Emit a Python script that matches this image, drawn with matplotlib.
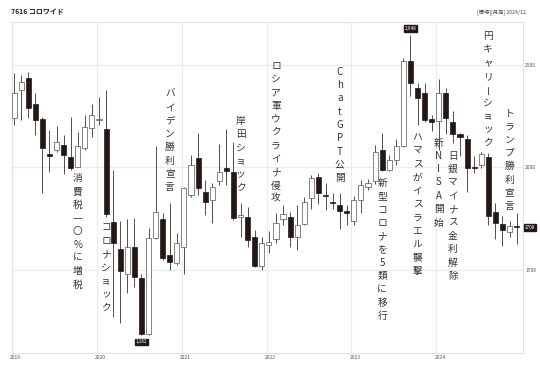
import matplotlib
matplotlib.use("Agg")
import matplotlib.pyplot as plt
import numpy as np

plt.rcParams['font.family'] = ['Noto Sans CJK JP', 'DejaVu Sans']

# ---- data (monthly OHLC, 2019-01 .. 2024-12) ----
months = [f"{y}-{m:02d}" for y in range(2019, 2025) for m in range(1, 13)]
opens = [2240, 2378, 2435, 2310, 2235, 2065, 2085, 2110, 2050, 2004, 2093, 2191,
         2232, 2186, 1736, 1601, 1480, 1614, 1459, 1190, 1654, 1747, 1573, 1533,
         1614, 1866, 2045, 1882, 1841, 1936, 1999, 1980, 1760, 1757, 1663, 1520,
         1620, 1650, 1747, 1760, 1663, 1724, 1850, 1952, 1864, 1834, 1817, 1789,
         1737, 1843, 1906, 1933, 2087, 1989, 2038, 2103, 2520, 2388, 2363, 2237,
         2225, 2363, 2220, 2163, 2139, 2000, 2014, 2051, 1781, 1726, 1684, 1713]
highs = [2459, 2451, 2467, 2362, 2248, 2183, 2202, 2159, 2248, 2175, 2256, 2310,
         2346, 2378, 1988, 1741, 1747, 1752, 1480, 1703, 2105, 1776, 1828, 1679,
         1906, 2061, 2167, 1939, 1922, 2115, 2188, 2126, 1828, 1809, 1695, 1659,
         1692, 1776, 1817, 1783, 1817, 1858, 1963, 1975, 1926, 1874, 1874, 1817,
         1859, 1941, 1945, 2111, 2168, 2063, 2139, 2535, 2648, 2412, 2412, 2258,
         2432, 2388, 2274, 2168, 2160, 2054, 2074, 2071, 1827, 1762, 1737, 1778]
lows = [2207, 2232, 2240, 2159, 1874, 1980, 2077, 1968, 1990, 2001, 2085, 2150,
        2207, 1760, 1272, 1240, 1386, 1415, 1182, 1185, 1650, 1549, 1500, 1525,
        1480, 1858, 1866, 1768, 1728, 1915, 1915, 1744, 1663, 1611, 1516, 1500,
        1584, 1630, 1720, 1611, 1598, 1720, 1800, 1822, 1793, 1796, 1698, 1720,
        1721, 1778, 1890, 1920, 1981, 1981, 2014, 2100, 2347, 2209, 2220, 2176,
        2087, 2165, 2120, 2054, 1879, 1973, 1998, 1721, 1651, 1619, 1661, 1628]
closes = [2362, 2419, 2289, 2232, 2093, 2058, 2124, 2061, 1996, 2105, 2196, 2256,
          2236, 1773, 1633, 1497, 1611, 1468, 1190, 1654, 1785, 1557, 1541, 1630,
          1898, 2012, 1898, 1833, 1906, 1980, 1983, 1752, 1768, 1646, 1520, 1630,
          1635, 1728, 1773, 1663, 1720, 1833, 1947, 1874, 1860, 1828, 1789, 1776,
          1843, 1916, 1925, 2074, 1989, 2038, 2103, 2520, 2412, 2339, 2233, 2220,
          2363, 2241, 2165, 2149, 1998, 1998, 2067, 1762, 1729, 1693, 1713, 1708]

years = ["2019", "2020", "2021", "2022", "2023", "2024"]
price_ticks = [1500, 2000, 2500]

events = ["消費税一〇%に増税", "コロナショック", "バイデン勝利宣言", "岸田ショック",
          "ロシア軍ウクライナ侵攻", "ChatGPT公開", "新型コロナを5類に移行",
          "ハマスがイスラエル襲撃", "新NISA開始", "日銀マイナス金利解除",
          "円キャリーショック", "トランプ勝利宣言"]
event_months = ["2019-10", "2020-02", "2020-11", "2021-09", "2022-02", "2022-11",
                "2023-05", "2023-10", "2024-01", "2024-03", "2024-08", "2024-11"]
event_levels = [1949, 1707, 2359, 2227, 2497, 2468, 1924, 2146, 2122, 2056, 2641, 2266]

title = "7616 コロワイド"
subtitle = "[優待][月足] 2024/12"

# ---- figure ----
fig = plt.figure(figsize=(5.4, 3.7), dpi=100)
ax = fig.add_axes([0.0217, 0.0468, 0.9468, 0.8946])

x = np.arange(len(months))
o = np.array(opens); h = np.array(highs); l = np.array(lows); c = np.array(closes)
up = c >= o
black = '#231815'

ax.vlines(x, l, h, color='#333333', lw=0.6, zorder=2)
bottoms = np.minimum(o, c)
heights = np.maximum(np.abs(c - o), 2)
ax.bar(x[up], heights[up], bottom=bottoms[up], width=0.72, color='white',
       edgecolor='#555555', lw=0.5, zorder=3)
ax.bar(x[~up], heights[~up], bottom=bottoms[~up], width=0.72, color=black,
       edgecolor=black, lw=0.5, zorder=3)

ax.set_xlim(-0.33, 71.9)
ax.set_ylim(1097, 2711)

grid_c = '#ebebeb'
year_pos = [12 * k - 0.33 for k in range(len(years))]
for g in year_pos:
    ax.axvline(g, color=grid_c, lw=0.8, zorder=0)
for p in price_ticks:
    ax.axhline(p, color=grid_c, lw=0.8, zorder=0)
for s in ax.spines.values():
    s.set_color('#e2e2e2'); s.set_linewidth(0.8)

ax.set_xticks([])
ax.yaxis.tick_right()
ax.set_yticks(price_ticks)
ax.set_yticklabels([str(p) for p in price_ticks])
ax.tick_params(axis='y', length=0, pad=1.5, labelsize=3.6, labelcolor='#555555')

for g, yl in zip(year_pos, years):
    ax.annotate(yl, xy=(g, 0), xycoords=('data', 'axes fraction'), xytext=(-1.5, -1.8),
                textcoords='offset points', ha='left', va='top', fontsize=3.6,
                color='#555555', annotation_clip=False)

# event annotations (vertical text)
for txt, mo, lev in zip(events, event_months, event_levels):
    idx = months.index(mo)
    for k, ch in enumerate(txt):
        rot = 90 if ch == 'ー' else 0
        ax.annotate(ch, xy=(idx, lev), xytext=(0, -k * 9.6), textcoords='offset points',
                    ha='center', va='center', fontsize=7.0, color='#333333',
                    rotation=rot, annotation_clip=False, zorder=5)

# max / min / last labels
imax = int(np.argmax(h)); imin = int(np.argmin(l))
box = dict(boxstyle='square,pad=0.15', fc=black, ec=black)
ax.annotate(f"{h[imax]:,}", xy=(imax, h[imax]), xytext=(0, 2.5), textcoords='offset points',
            ha='center', va='bottom', fontsize=3.4, color='white', bbox=box,
            annotation_clip=False)
ax.annotate(f"{l[imin]:,}", xy=(imin, l[imin]), xytext=(0, -3), textcoords='offset points',
            ha='center', va='top', fontsize=3.4, color='white', bbox=box,
            annotation_clip=False)
ax.annotate(f"{c[-1]}", xy=(1, c[-1]), xycoords=('axes fraction', 'data'), xytext=(1.2, 0),
            textcoords='offset points', ha='left', va='center', fontsize=3.4, color='white',
            bbox=box, annotation_clip=False)

fig.text(11 / 540, 1 - 12 / 370, title, ha='left', va='center', fontsize=5.0,
         fontweight='bold', color='#222222')
fig.text(526 / 540, 1 - 12 / 370, subtitle, ha='right', va='center', fontsize=3.8,
         color='#444444')

fig.savefig("out.png", dpi=100)
